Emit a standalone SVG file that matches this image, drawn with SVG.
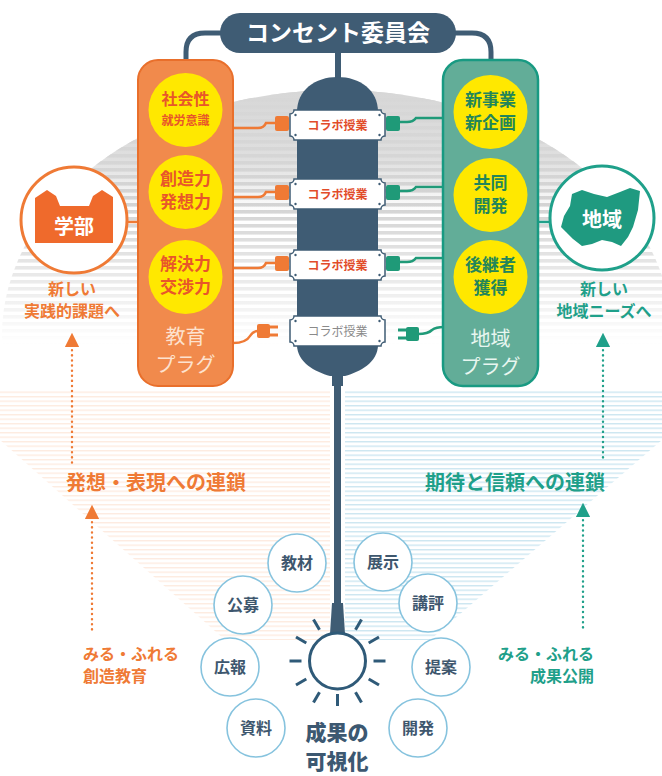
<svg xmlns="http://www.w3.org/2000/svg" width="662" height="776" viewBox="0 0 662 776">
  <style>
    text { font-family: "Noto Sans CJK JP", "Noto Sans", sans-serif; text-anchor: middle; }
    .slate { fill: #3f5c74; }
    .cordS { stroke: #3f5c74; fill: none; }
    .ycirc { fill: #ffe800; }
    .tOr { fill: #e8562a; font-weight: 700; }
    .tGr { fill: #23855a; font-weight: 700; font-size: 17px; }
    .plugO { fill: #ef7a35; }
    .plugG { fill: #1f9a78; }
    .cordO { stroke: #ef7a35; stroke-width: 2.5; fill: none; }
    .cordG { stroke: #1f9a78; stroke-width: 2.5; fill: none; }
    .sock { fill: #ffffff; stroke: #3f5c74; stroke-width: 1.5; }
    .sockT { font-size: 12px; font-weight: 700; fill: #e24c2a; }
    .bub { fill: #ffffff; stroke: #86c3de; stroke-width: 1.6; }
    .bubT { font-size: 16px; font-weight: 700; fill: #3e576e; }
    .ray { stroke: #2f5a78; stroke-width: 3; stroke-linecap: butt; }
    .capO { fill: #ef7a35; font-size: 16px; font-weight: 700; }
    .capG { fill: #1fa08a; font-size: 16px; font-weight: 700; }
    .plugLbl { font-size: 20px; }
    .chainO { fill: #ef7a35; font-size: 20px; font-weight: 700; }
    .chainG { fill: #1fa08a; font-size: 20px; font-weight: 700; }
    .dotO { stroke: #ef7a35; stroke-width: 2.4; stroke-dasharray: 0.1 5; stroke-linecap: round; fill: none; }
    .dotG { stroke: #1fa08a; stroke-width: 2.4; stroke-dasharray: 0.1 5; stroke-linecap: round; fill: none; }
    .result { font-size: 21px; font-weight: 900; fill: #3c5871; }
  </style>
  <defs>
    <pattern id="hatchGray" width="10" height="7" patternUnits="userSpaceOnUse">
      <rect width="10" height="3.6" fill="#d2d2d2"/>
    </pattern>
    <pattern id="hatchBlue" width="10" height="4.5" patternUnits="userSpaceOnUse">
      <rect width="10" height="1.4" fill="#cde6f1"/>
    </pattern>
    <pattern id="hatchPeach" width="10" height="4.5" patternUnits="userSpaceOnUse">
      <rect width="10" height="1.4" fill="#fdebe0"/>
    </pattern>
    <linearGradient id="domeSolid" gradientUnits="userSpaceOnUse" x1="0" y1="90" x2="0" y2="215">
      <stop offset="0" stop-color="#d7d7d7" stop-opacity="1"/>
      <stop offset="0.55" stop-color="#d7d7d7" stop-opacity="0.8"/>
      <stop offset="1" stop-color="#d7d7d7" stop-opacity="0"/>
    </linearGradient>
    <linearGradient id="fadeGrad" gradientUnits="userSpaceOnUse" x1="0" y1="200" x2="0" y2="345">
      <stop offset="0" stop-color="#ffffff"/>
      <stop offset="1" stop-color="#000000"/>
    </linearGradient>
    <mask id="domeFade">
      <rect x="0" y="80" width="662" height="270" fill="url(#fadeGrad)"/>
    </mask>
    <clipPath id="domeClip">
      <rect x="0" y="80" width="662" height="265"/>
    </clipPath>
    <path id="socketPlate" d="M-43.5,-15 H43.5 A4,4 0 0 0 47.5,-11 V11 A4,4 0 0 0 43.5,15 H-43.5 A4,4 0 0 0 -47.5,11 V-11 A4,4 0 0 0 -43.5,-15 Z"/>
    <g id="screws" fill="#3f5c74">
      <circle cx="-42" cy="-10" r="1.2"/><circle cx="42" cy="-10" r="1.2"/>
      <circle cx="-42" cy="10" r="1.2"/><circle cx="42" cy="10" r="1.2"/>
    </g>
    <marker id="tipO" viewBox="0 0 10 10" refX="5" refY="5" markerWidth="6" markerHeight="6" orient="auto-start-reverse">
      <path d="M0,0 L10,5 L0,10 Z" fill="#ef7a35"/>
    </marker>
    <marker id="tipG" viewBox="0 0 10 10" refX="5" refY="5" markerWidth="6" markerHeight="6" orient="auto-start-reverse">
      <path d="M0,0 L10,5 L0,10 Z" fill="#1fa08a"/>
    </marker>
  </defs>

  <rect width="662" height="776" fill="#ffffff"/>

  <!-- background: striped dome and fans -->
  <g id="background">
    <g clip-path="url(#domeClip)">
      <ellipse cx="337" cy="335" rx="335" ry="245" fill="url(#hatchGray)" mask="url(#domeFade)"/>
      <ellipse cx="337" cy="335" rx="335" ry="245" fill="url(#domeSolid)"/>
    </g>
    <polygon points="0,390 330,390 330,640 225,640 0,440" fill="url(#hatchPeach)"/>
    <polygon points="345,390 662,390 662,440 430,640 345,640" fill="url(#hatchBlue)"/>
  </g>

  <!-- connectors -->
  <g id="connectors">
    <path class="cordS" stroke-width="5" d="M222,33 H205 Q186,33 186,52 V61"/>
    <path class="cordS" stroke-width="5" d="M454,33 H472 Q491,33 491,52 V61"/>
    <line class="cordS" x1="338" y1="50" x2="338" y2="80" stroke-width="6"/>
    <line x1="127" y1="222" x2="139" y2="222" stroke="#ef7a35" stroke-width="2.5"/>
    <line x1="538" y1="222" x2="550" y2="222" stroke="#1fa08a" stroke-width="2.5"/>
    <!-- plug cords -->
    <path class="cordO" d="M233,128 H258 Q264,128 266,123 H276"/>
    <path class="cordO" d="M233,197 H258 Q264,197 266,192 H276"/>
    <path class="cordO" d="M233,268 H258 Q264,268 266,263 H276"/>
    <path class="cordO" d="M233,343 Q246,343 250,336 Q253,331 258,331"/>
    <path class="cordG" d="M399,122 H407 Q413,122 416,118 H444"/>
    <path class="cordG" d="M399,191 H407 Q413,191 416,187 H444"/>
    <path class="cordG" d="M399,262 H407 Q413,262 416,258 H444"/>
    <path class="cordG" d="M418,334 Q428,334 432,330 Q436,327 444,327"/>
    <!-- dotted chains -->
    <line class="dotO" x1="72" y1="340" x2="72" y2="463" marker-start="url(#tipO)"/>
    <line class="dotO" x1="92" y1="512" x2="92" y2="632" marker-start="url(#tipO)"/>
    <line class="dotG" x1="603" y1="340" x2="603" y2="458" marker-start="url(#tipG)"/>
    <line class="dotG" x1="583" y1="510" x2="583" y2="632" marker-start="url(#tipG)"/>
    <!-- cord to bulb -->
    <line class="cordS" x1="337.5" y1="380" x2="337.5" y2="606" stroke-width="7"/>
  </g>

  <!-- committee -->
  <g id="committee">
    <rect x="220" y="13" width="236" height="40" rx="20" class="slate"/>
    <text x="338" y="41" font-size="23" font-weight="700" fill="#ffffff">コンセント委員会</text>
  </g>

  <!-- power strip -->
  <g id="power-strip">
    <path class="slate" d="M297,112 C297,90 315,77 337.5,77 C360,77 378,90 378,112 V345 C378,362 360,372 345,376 H330 C315,372 297,362 297,345 Z"/>
    <rect x="332" y="370" width="11" height="16" class="slate"/>
    <g transform="translate(337.5,125)"><use href="#socketPlate" class="sock"/><use href="#screws"/><text class="sockT" y="4.5">コラボ授業</text></g>
    <g transform="translate(337.5,194)"><use href="#socketPlate" class="sock"/><use href="#screws"/><text class="sockT" y="4.5">コラボ授業</text></g>
    <g transform="translate(337.5,265)"><use href="#socketPlate" class="sock"/><use href="#screws"/><text class="sockT" y="4.5">コラボ授業</text></g>
    <g transform="translate(337.5,331)"><use href="#socketPlate" class="sock"/><use href="#screws"/><text y="4.5" font-size="12" fill="#8a8a8a">コラボ授業</text></g>
    <!-- plugs -->
    <rect class="plugO" x="275" y="116" width="14" height="15" rx="2"/>
    <rect class="plugO" x="275" y="185" width="14" height="15" rx="2"/>
    <rect class="plugO" x="275" y="256" width="14" height="15" rx="2"/>
    <rect class="plugG" x="386" y="116" width="14" height="15" rx="2"/>
    <rect class="plugG" x="386" y="185" width="14" height="15" rx="2"/>
    <rect class="plugG" x="386" y="256" width="14" height="15" rx="2"/>
    <rect class="plugO" x="257" y="324" width="13" height="14" rx="2"/>
    <rect class="plugO" x="269" y="325.5" width="9" height="3"/>
    <rect class="plugO" x="269" y="333.5" width="9" height="3"/>
    <rect class="plugG" x="406" y="327" width="13" height="14" rx="2"/>
    <rect class="plugG" x="398" y="328.5" width="9" height="3"/>
    <rect class="plugG" x="398" y="336.5" width="9" height="3"/>
  </g>

  <!-- education plug panel -->
  <g id="education-plug">
    <rect x="138" y="60" width="95" height="326" rx="20" fill="#f18a4c" stroke="#e96f2b" stroke-width="2"/>
    <circle class="ycirc" cx="185.5" cy="110" r="37"/>
    <circle class="ycirc" cx="185.5" cy="192" r="37"/>
    <circle class="ycirc" cx="185.5" cy="277" r="37"/>
    <text class="tOr" x="185.5" y="105" font-size="16">社会性</text>
    <text class="tOr" x="185.5" y="125" font-size="12">就労意識</text>
    <text class="tOr" x="185.5" y="185" font-size="17">創造力</text>
    <text class="tOr" x="185.5" y="208" font-size="17">発想力</text>
    <text class="tOr" x="185.5" y="270" font-size="17">解決力</text>
    <text class="tOr" x="185.5" y="293" font-size="17">交渉力</text>
    <text class="plugLbl" x="185.5" y="344" fill="#fde2cf">教育</text>
    <text class="plugLbl" x="185.5" y="372" fill="#fde2cf">プラグ</text>
  </g>

  <!-- community plug panel -->
  <g id="community-plug">
    <rect x="443" y="60" width="95" height="326" rx="20" fill="#62ad98" stroke="#189a82" stroke-width="2.5"/>
    <circle class="ycirc" cx="490.5" cy="112" r="37"/>
    <circle class="ycirc" cx="490.5" cy="195" r="37"/>
    <circle class="ycirc" cx="490.5" cy="277" r="37"/>
    <text class="tGr" x="490.5" y="106">新事業</text>
    <text class="tGr" x="490.5" y="129">新企画</text>
    <text class="tGr" x="490.5" y="189">共同</text>
    <text class="tGr" x="490.5" y="212">開発</text>
    <text class="tGr" x="490.5" y="271">後継者</text>
    <text class="tGr" x="490.5" y="294">獲得</text>
    <text class="plugLbl" x="490.5" y="346" fill="#e8f6f0">地域</text>
    <text class="plugLbl" x="490.5" y="374" fill="#e8f6f0">プラグ</text>
  </g>

  <!-- faculty -->
  <g id="faculty">
    <circle cx="74" cy="220" r="53" fill="#ffffff" stroke="#ef7a35" stroke-width="3"/>
    <path fill="#ef6a2c" d="M35,243 V198 L47,190 L56,196 L60,206 H89 L93,196 L102,190 L113,197 V243 Z"/>
    <text x="74" y="234" font-size="20" font-weight="700" fill="#ffffff">学部</text>
    <text class="capO" x="72" y="295">新しい</text>
    <text class="capO" x="72" y="317">実践的課題へ</text>
  </g>

  <!-- community -->
  <g id="community">
    <circle cx="602" cy="218" r="52" fill="#ffffff" stroke="#1fa08a" stroke-width="3"/>
    <path fill="#1f9a80" d="M572,194 L582,190 L594,194 L607,197 L620,192 L630,188 L640,191 L638,210 L633,227 L628,237 L621,246 L612,242 L602,240 L592,244 L582,246 L573,239 L566,232 L561,227 L564,216 L570,206 Z"/>
    <text x="602" y="227" font-size="20" font-weight="700" fill="#ffffff">地域</text>
    <text class="capG" x="604" y="295">新しい</text>
    <text class="capG" x="604" y="317">地域ニーズへ</text>
  </g>

  <!-- chain labels -->
  <g id="chain-labels">
    <text class="chainO" x="156" y="490">発想・表現への連鎖</text>
    <text class="chainG" x="515" y="490">期待と信頼への連鎖</text>
    <text class="capO" x="83" y="660" style="text-anchor:start">みる・ふれる</text>
    <text class="capO" x="83" y="682" style="text-anchor:start">創造教育</text>
    <text class="capG" x="594" y="660" style="text-anchor:end">みる・ふれる</text>
    <text class="capG" x="594" y="682" style="text-anchor:end">成果公開</text>
  </g>

  <!-- outcome bubbles -->
  <g id="bubble-kyozai"><circle class="bub" cx="297" cy="563" r="29"/><text class="bubT" x="297" y="569">教材</text></g>
  <g id="bubble-tenji"><circle class="bub" cx="383" cy="562" r="29"/><text class="bubT" x="383" y="568">展示</text></g>
  <g id="bubble-kobo"><circle class="bub" cx="243" cy="605" r="29"/><text class="bubT" x="243" y="611">公募</text></g>
  <g id="bubble-kohyo"><circle class="bub" cx="428" cy="603" r="29"/><text class="bubT" x="428" y="609">講評</text></g>
  <g id="bubble-koho"><circle class="bub" cx="230" cy="667" r="29"/><text class="bubT" x="230" y="673">広報</text></g>
  <g id="bubble-teian"><circle class="bub" cx="441" cy="667" r="29"/><text class="bubT" x="441" y="673">提案</text></g>
  <g id="bubble-shiryo"><circle class="bub" cx="256" cy="728" r="29"/><text class="bubT" x="256" y="734">資料</text></g>
  <g id="bubble-kaihatsu"><circle class="bub" cx="418" cy="728" r="29"/><text class="bubT" x="418" y="734">開発</text></g>

  <!-- light bulb -->
  <g id="bulb">
    <path class="slate" d="M332,603 H343 L345,634 H330 Z"/>
    <circle cx="337.5" cy="661" r="28" fill="#ffffff" stroke="#2f5a78" stroke-width="3"/>
    <line class="ray" x1="306.3" y1="643" x2="296" y2="637"/>
    <line class="ray" x1="319.5" y1="629.8" x2="313.5" y2="619.4"/>
    <line class="ray" x1="355.5" y1="629.8" x2="361.5" y2="619.4"/>
    <line class="ray" x1="368.7" y1="643" x2="379" y2="637"/>
    <line class="ray" x1="373.5" y1="661" x2="385.5" y2="661"/>
    <line class="ray" x1="301.5" y1="661" x2="289.5" y2="661"/>
    <line class="ray" x1="368.7" y1="679" x2="379" y2="685"/>
    <line class="ray" x1="306.3" y1="679" x2="296" y2="685"/>
    <line class="ray" x1="355.5" y1="692.2" x2="361.5" y2="702.6"/>
    <line class="ray" x1="319.5" y1="692.2" x2="313.5" y2="702.6"/>
    <line class="ray" x1="337.5" y1="694" x2="337.5" y2="706"/>
    <text class="result" x="337" y="740">成果の</text>
    <text class="result" x="337" y="769">可視化</text>
  </g>
</svg>
